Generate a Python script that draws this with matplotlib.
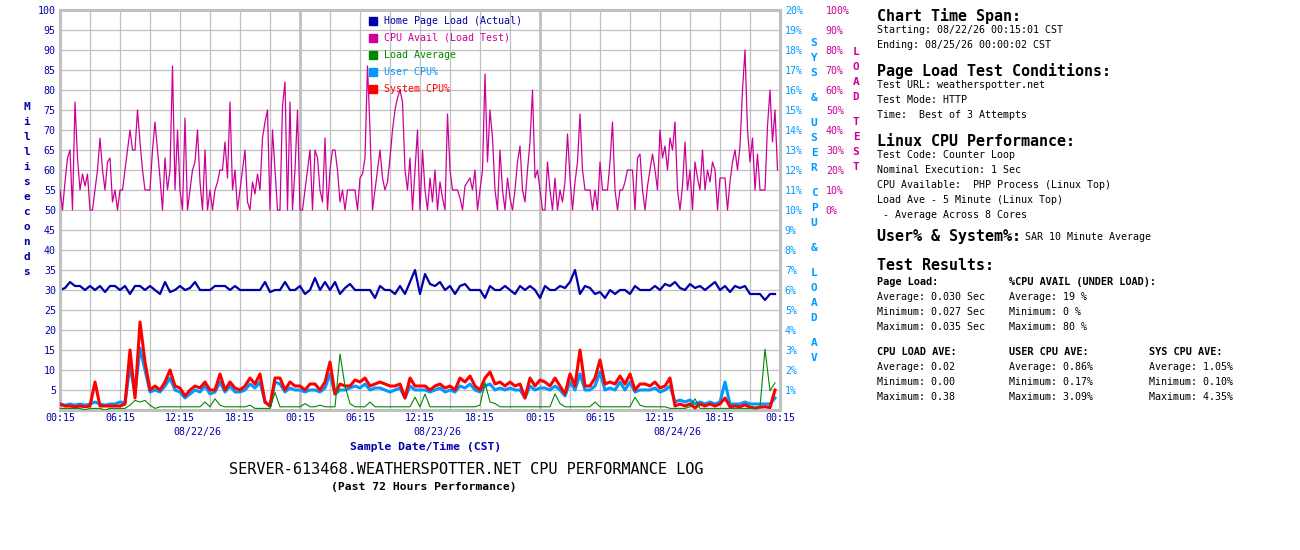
import numpy as np
import matplotlib
matplotlib.use('Agg')
from matplotlib import pyplot as plt
from matplotlib.patches import Rectangle

# ---- data ----
# CPU avail under load test (%), every 15 min
cpu_avail = [
    10,0, 14,26, 30,0, 54,26, 10,18, 12,18, 0,0, 10,20, 36,20, 10,24, 26,4, 10,0, 10,10, 20,30,
    40,30, 30,50, 34,20, 10,10, 10,30, 44,30, 16,0, 26,10, 20,72, 10,40, 10,0, 46,0, 10,20,
    24,40, 14,0, 30,0, 10,0, 10,14, 20,20, 34,16, 54,10, 20,0, 10,20, 30,4, 0,14, 8,18, 10,36,
    44,50, 0,40, 20,0, 0,52, 64,0, 54,0, 20,50, 0,0, 10,20, 30,0, 30,26, 10,4, 36,0, 20,30,
    30,20, 4,10, 0,10, 10,10, 10,0, 16,18, 26,72, 40,0, 10,20, 30,16, 10,14, 26,40, 50,56,
    60,54, 20,10, 26,0, 20,40, 0,30, 10,0, 16,4, 20,0, 14,6, 0,48, 20,10, 10,10, 6,0, 12,14,
    16,10, 20,0, 10,20, 68,24, 50,36, 10,0, 30,10, 0,16, 6,0, 10,24, 32,10, 4,20, 34,60,
    16,20, 10,0, 0,24, 10,0, 16,0, 10,4, 14,38, 16,0, 14,24, 48,20, 10,10, 10,0, 10,0, 24,10,
    10,10, 24,44, 10,0, 10,10, 14,20, 20,20, 0,26, 28,10, 0,12, 20,28, 20,10, 40,26, 32,20,
    36,30, 44,10, 0,12, 34,10, 20,0, 24,16, 10,30, 10,20, 14,24, 20,0, 16,16, 16,0, 14,24,
    30,20, 32,60, 80,40, 24,36, 10,28, 10,10, 10,42, 60,34, 50,20,
]

# home page load (ms), every 30 min
page_load = [
    30,30.5,32,31,31,30,31,30,31,29.5,31,31,30,31,29,31,31,30,31,30,29,32,29.5,30,31,30,30.5,32,
    30,30,30,31,31,31,30,31,30,30,30,30,30,32,29.5,30,30,32,30,30,31,29,30,33,30,32,30,32,29,30.5,
    31.5,30,30,30,30,28,31,30,30,29,31,29,32,35,
    29,34,31.5,31,32,30,31,29,31,31.5,30,30,30,28,31,30,30,31,30,29,31,30,31,30,28,31,30,30,31,
    30.5,32,35,29,31,30.5,29,29.5,28,30,29,30,30,29,31,30,30,30,31,30,31.5,31,32,30.5,30,31.5,
    30.5,31,30,31,32,30,31,29.5,31,30.5,31,29,29,29,27.5,29,29,
]

# user CPU (%), every 30 min
user_cpu = [
    0.3,0.24,0.3,0.24,0.3,0.24,0.3,0.4,0.3,0.24, 0.3,0.3,0.4,0.36,2.2,0.8,3.1,2.0,0.9,1.0,
    0.9,1.2,1.6,1.0,0.9,0.6,0.8,1.0,0.9,1.2, 0.8,0.9,1.4,0.9,1.2,0.9,0.9,1.0,1.3,1.1,
    1.4,0.4,0.2,1.4,1.3,0.9,1.1,1.0,1.0,0.9, 1.0,1.0,0.9,1.1,1.8,0.8,1.0,1.0,1.1,1.2,
    1.1,1.3,1.0,1.1,1.1,1.0,0.9,1.0,1.1,0.6, 1.2,1.0,
    1.0,1.0,0.9,1.0,1.1,0.9,1.0,0.9,1.2,1.1, 1.3,1.0,0.9,1.2,1.3,1.0,1.1,1.0,1.1,1.0,
    1.0,0.6,1.2,1.0,1.1,1.1,1.0,1.2,1.0,0.7, 1.4,1.0,1.8,1.0,1.0,1.2,1.9,1.0,1.1,1.0,
    1.4,1.0,1.4,0.9,1.0,1.0,1.0,1.1,0.9,1.0, 1.2,0.4,0.5,0.4,0.5,0.3,0.4,0.3,0.4,0.3,
    0.4,1.4,0.3,0.3,0.3,0.4,0.3,0.3,0.3,0.3, 0.3,0.6,
]

# system CPU (%), every 30 min
sys_cpu = [
    0.3,0.2,0.2,0.16,0.2,0.16,0.2,1.4,0.2,0.2, 0.2,0.2,0.2,0.3,3.0,0.6,4.4,2.4,1.0,1.2,
    1.0,1.4,2.0,1.2,1.1,0.7,1.0,1.2,1.1,1.4, 1.0,1.0,1.8,1.0,1.4,1.1,1.0,1.2,1.6,1.3,
    1.8,0.4,0.2,1.6,1.6,1.0,1.4,1.2,1.2,1.0, 1.3,1.3,1.0,1.4,2.4,0.8,1.3,1.2,1.2,1.5,
    1.4,1.6,1.2,1.3,1.4,1.3,1.2,1.2,1.3,0.6, 1.6,1.2,
    1.2,1.2,1.0,1.2,1.3,1.1,1.2,1.0,1.6,1.4, 1.7,1.2,1.0,1.6,1.9,1.3,1.4,1.2,1.4,1.2,
    1.3,0.6,1.6,1.2,1.5,1.4,1.2,1.6,1.2,0.8, 1.8,1.2,3.0,1.2,1.2,1.6,2.5,1.3,1.4,1.3,
    1.7,1.3,1.8,1.0,1.3,1.3,1.2,1.4,1.1,1.2, 1.6,0.2,0.3,0.2,0.3,0.1,0.3,0.2,0.3,0.2,
    0.3,0.6,0.16,0.2,0.16,0.26,0.14,0.1,0.14,0.16, 0.12,1.0,
]

# 5 minute load average, every 30 min
load_avg = [
    0.01,0.01,0.01,0.01,0.01,0.00,0.01,0.01,0.01,0.00, 0.01,0.01,0.01,0.01,0.03,0.06,0.05,0.06,0.03,0.01,
    0.02,0.02,0.02,0.02,0.02,0.02,0.02,0.02,0.02,0.05, 0.02,0.07,0.03,0.02,0.02,0.02,0.02,0.02,0.03,0.01,
    0.01,0.01,0.01,0.11,0.02,0.02,0.02,0.02,0.02,0.04, 0.02,0.02,0.03,0.02,0.02,0.02,0.35,0.15,0.04,0.02,
    0.02,0.02,0.05,0.02,0.02,0.02,0.02,0.02,0.02,0.02, 0.02,0.08,
    0.02,0.10,0.02,0.02,0.02,0.02,0.02,0.02,0.02,0.02, 0.02,0.02,0.03,0.17,0.05,0.04,0.02,0.02,0.02,0.02,
    0.02,0.02,0.02,0.02,0.02,0.02,0.02,0.10,0.04,0.02, 0.02,0.02,0.02,0.02,0.02,0.05,0.02,0.02,0.02,0.02,
    0.02,0.02,0.02,0.08,0.03,0.02,0.02,0.02,0.02,0.02, 0.01,0.01,0.01,0.01,0.02,0.07,0.01,0.01,0.01,0.01,
    0.01,0.01,0.01,0.01,0.01,0.01,0.01,0.01,0.02,0.38, 0.12,0.17,
]

x_labels = ['00:15', '06:15', '12:15', '18:15'] * 3 + ['00:15']
dates = ['08/22/26', '08/23/26', '08/24/26']

t15 = np.arange(len(cpu_avail)) * 0.25
t30 = np.arange(len(page_load)) * 0.5

NAVY = '#0000AA'
PINK = '#CC0099'
GREEN = '#008800'
LBLUE = '#0099FF'
RED = '#FF0000'
GRID = '#C0C0C0'

plt.rcParams['font.family'] = 'DejaVu Sans Mono'
W, H = 1300, 550
fig = plt.figure(figsize=(13, 5.5), dpi=100)


def fx(x):
    return x / W


def fy(y):
    return 1 - y / H


ax = fig.add_axes([fx(60), fy(410), fx(780) - fx(60), fy(10) - fy(410)])
ax.set_xlim(0, 72)
ax.set_ylim(0, 100)
ax.set_yticks(np.arange(5, 101, 5))
ax.set_yticklabels([str(v) for v in range(5, 101, 5)], color=NAVY, fontsize=7.2)
ax.set_xticks(np.arange(0, 73, 6))
ax.set_xticks(np.arange(3, 72, 6), minor=True)
ax.set_xticklabels(x_labels, color=NAVY, fontsize=7.2)
ax.tick_params(axis='both', which='both', length=0)
ax.tick_params(axis='y', pad=3)
ax.tick_params(axis='x', pad=2)
ax.grid(True, which='both', color=GRID, lw=0.9)
for d in (24, 48):
    ax.axvline(d, color=GRID, lw=2)
for s in ax.spines.values():
    s.set_color(GRID)
    s.set_linewidth(2.2)

ax_pink = ax.twinx()
ax_pink.set_ylim(-100, 100)
ax_pink.set_yticks(np.arange(0, 101, 10))
ax_pink.set_yticklabels([f'{v}%' for v in range(0, 101, 10)], color=PINK, fontsize=7.2)
ax_pink.tick_params(length=0, pad=33)

ax_sys = ax.twinx()
ax_sys.set_ylim(0, 20)
ax_sys.set_yticks(np.arange(1, 21))
ax_sys.set_yticklabels([f'{v}%' for v in range(1, 21)], color=LBLUE, fontsize=7.2)
ax_sys.tick_params(length=0, pad=3.5)

ax_load = ax.twinx()
ax_load.set_ylim(0, 2.5)
ax_load.set_yticks([])

for a in (ax_pink, ax_sys, ax_load):
    for s in a.spines.values():
        s.set_visible(False)

ax.plot(t30, page_load, color=NAVY, lw=1.6)
ax_pink.plot(t15, cpu_avail, color=PINK, lw=0.9)
ax_load.plot(t30, load_avg, color=GREEN, lw=0.8)
ax_sys.plot(t30, user_cpu, color=LBLUE, lw=2.2)
ax_sys.plot(t30, sys_cpu, color=RED, lw=2.2)

# legend
leg = [('Home Page Load (Actual)', NAVY), ('CPU Avail (Load Test)', PINK),
       ('Load Average', GREEN), ('User CPU%', LBLUE), ('System CPU%', RED)]
for i, (lab, c) in enumerate(leg):
    y = 21 + 17 * i
    fig.patches.append(Rectangle((fx(369), fy(y + 4)), 8 / W, 8 / H, color=c,
                                 transform=fig.transFigure, figure=fig))
    fig.text(fx(384), fy(y), lab, color=c, fontsize=7.2, va='center', ha='left')

# vertical axis labels
for i, ch in enumerate('Milliseconds'):
    fig.text(fx(27), fy(107 + 15 * i), ch, color=NAVY, fontsize=8, weight='bold',
             ha='center', va='center')
y = 43
for ch in 'SYS & USER CPU & LOAD AV':
    if ch == ' ':
        y += 10
        continue
    fig.text(fx(814), fy(y), ch, color=LBLUE, fontsize=8, weight='bold', ha='center', va='center')
    y += 15
y = 52
for ch in 'LOAD TEST':
    if ch == ' ':
        y += 10
        continue
    fig.text(fx(856), fy(y), ch, color=PINK, fontsize=8, weight='bold', ha='center', va='center')
    y += 15

for xd, d in zip((197, 437, 677), dates):
    fig.text(fx(xd), fy(432), d, color=NAVY, fontsize=7.2, ha='center', va='center')
fig.text(fx(426), fy(447), 'Sample Date/Time (CST)', color=NAVY, fontsize=8.2, weight='bold',
         ha='center', va='center')
fig.text(fx(466), fy(470), 'SERVER-613468.WEATHERSPOTTER.NET CPU PERFORMANCE LOG', color='black',
         fontsize=11, ha='center', va='center')
fig.text(fx(424), fy(487), '(Past 72 Hours Performance)', color='black', fontsize=8.2,
         weight='bold', ha='center', va='center')

# info panel
big = dict(fontsize=10.8, weight='bold', va='center', ha='left')
small = dict(fontsize=7.2, va='center', ha='left')
smallb = dict(fontsize=7.4, weight='bold', va='center', ha='left')
fig.text(fx(877), fy(16), 'Chart Time Span:', **big)
fig.text(fx(877), fy(30), 'Starting: 08/22/26 00:15:01 CST', **small)
fig.text(fx(877), fy(45), 'Ending: 08/25/26 00:00:02 CST', **small)
fig.text(fx(877), fy(71), 'Page Load Test Conditions:', **big)
fig.text(fx(877), fy(85), 'Test URL: weatherspotter.net', **small)
fig.text(fx(877), fy(100), 'Test Mode: HTTP', **small)
fig.text(fx(877), fy(115), 'Time:  Best of 3 Attempts', **small)
fig.text(fx(877), fy(141), 'Linux CPU Performance:', **big)
fig.text(fx(877), fy(155), 'Test Code: Counter Loop', **small)
fig.text(fx(877), fy(170), 'Nominal Execution: 1 Sec', **small)
fig.text(fx(877), fy(185), 'CPU Available:  PHP Process (Linux Top)', **small)
fig.text(fx(877), fy(200), 'Load Ave - 5 Minute (Linux Top)', **small)
fig.text(fx(877), fy(215), ' - Average Across 8 Cores', **small)
fig.text(fx(877), fy(237), 'User% & System%:', **big)
fig.text(fx(1025), fy(237), 'SAR 10 Minute Average', **small)
fig.text(fx(877), fy(266), 'Test Results:', **big)

cols = [
    (877, 282, ['Page Load:', 'Average: 0.030 Sec', 'Minimum: 0.027 Sec', 'Maximum: 0.035 Sec']),
    (1009, 282, ['%CPU AVAIL (UNDER LOAD):', 'Average: 19 %', 'Minimum: 0 %', 'Maximum: 80 %']),
    (877, 352, ['CPU LOAD AVE:', 'Average: 0.02', 'Minimum: 0.00', 'Maximum: 0.38']),
    (1009, 352, ['USER CPU AVE:', 'Average: 0.86%', 'Minimum: 0.17%', 'Maximum: 3.09%']),
    (1149, 352, ['SYS CPU AVE:', 'Average: 1.05%', 'Minimum: 0.10%', 'Maximum: 4.35%']),
]
for x0, y0, lines in cols:
    fig.text(fx(x0), fy(y0), lines[0], **smallb)
    for j, ln in enumerate(lines[1:]):
        fig.text(fx(x0), fy(y0 + 15 * (j + 1)), ln, **small)

fig.savefig('out.png', dpi=100, facecolor='white')
